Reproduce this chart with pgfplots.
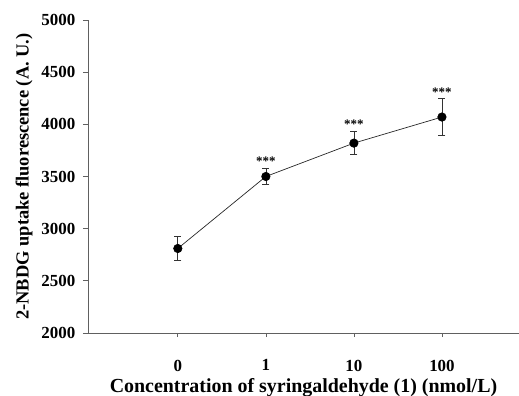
\documentclass[border=0pt]{standalone}
\usepackage{pgfplots}
\pgfplotsset{compat=1.18}
\usepackage{fontspec}
\setmainfont{Liberation Serif}
\begin{document}
\begin{tikzpicture}
\begin{axis}[
  scale only axis,
  width=431bp, height=313bp,
  xmin=-1.02, xmax=3.875,
  ymin=2000, ymax=5000,
  ytick={2000,2500,...,5000},
  xtick={0,1,2,3},
  xticklabels={0,1,10,100},
  axis x line*=bottom,
  axis y line*=left,
  axis line style={draw=gray!75!black, line width=0.8pt, -},
  tick style={draw=gray!75!black, line width=0.7pt},
  xtick style={/pgfplots/major tick length=4bp},
  ytick style={/pgfplots/major tick length=5bp},
  tick align=outside,
  /pgf/number format/assume math mode=true,
  /pgf/number format/1000 sep={},
  ticklabel style={font=\fontsize{17}{19}\selectfont\bfseries},
  xticklabel style={yshift=-19bp},
  yticklabel style={xshift=-5bp},
  xlabel={Concentration of syringaldehyde (1) (nmol/L)},
  ylabel={2-NBDG uptake fluorescence (A. U.)},
  xlabel style={font=\fontsize{20}{22}\selectfont\bfseries, yshift=0bp},
  ylabel style={font=\fontsize{18.5}{20}\selectfont\bfseries, yshift=2bp},
  clip=false,
]
\addplot[black!85, line width=0.7pt, mark=*, mark size=4.2bp, mark options={fill=black, draw=black},
  error bars/.cd, y dir=both, y explicit,
  error bar style={black!80, line width=0.7pt},
  error mark options={rotate=90, mark size=3.5bp, line width=0.7pt}]
  coordinates {
  (0,2810) +- (0,115)
  (1,3500) +- (0,75)
  (2,3820) +- (0,112)
  (3,4070) +- (0,175)
};
\node[font=\fontsize{13}{14}\selectfont\bfseries, anchor=south, inner sep=1bp] at (axis cs:1,3590) {***};
\node[font=\fontsize{13}{14}\selectfont\bfseries, anchor=south, inner sep=1bp] at (axis cs:2,3945) {***};
\node[font=\fontsize{13}{14}\selectfont\bfseries, anchor=south, inner sep=1bp] at (axis cs:3,4255) {***};
\end{axis}
\pgfresetboundingbox
\path (-88bp,-63bp) rectangle (431bp,333bp);
\end{tikzpicture}
\end{document}
